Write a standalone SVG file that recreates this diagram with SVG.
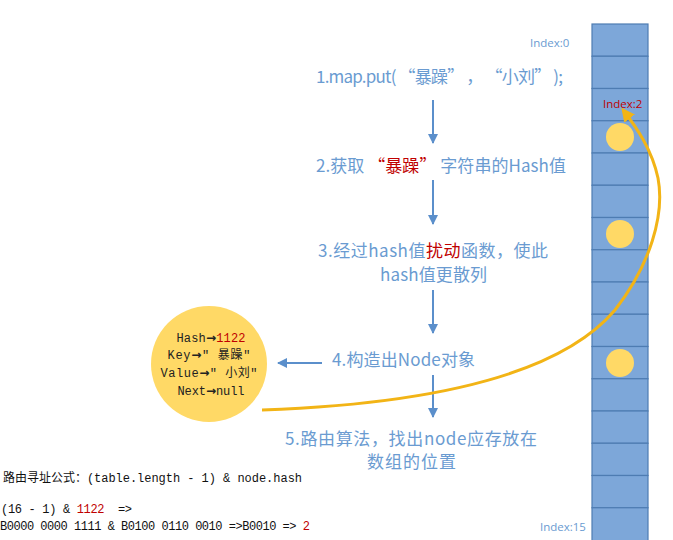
<svg xmlns="http://www.w3.org/2000/svg" width="673" height="540" viewBox="0 0 673 540">
<style>
.step{font-family:"Noto Sans CJK SC","Open Sans",sans-serif;font-size:17px;fill:#6A9BD1;}
.node{font-family:"Liberation Mono","Noto Sans CJK SC",monospace;font-size:12px;fill:#222;}
.ar{font-family:"DejaVu Sans",sans-serif;font-weight:bold;}
.code{font-family:"Liberation Mono","Noto Sans CJK SC",monospace;font-size:12px;fill:#111;white-space:pre;}
.idx{font-family:"Open Sans",sans-serif;font-size:11.5px;fill:#6A9BD1;}
.red, .idx.red, .step .red, .node .red, .code .red{fill:#C00000;}
.cell{fill:#7DA7D9;stroke:#4E7CB2;stroke-width:1.2;}
.dot{fill:#FFD966;}
.arr{stroke:#5B8FCB;stroke-width:2;fill:none;marker-end:url(#ab);}
</style>
<defs>
<marker id="ab" viewBox="0 0 10 10" refX="9" refY="5" markerWidth="5" markerHeight="5" orient="auto" markerUnits="strokeWidth">
<path d="M0,0 L10,5 L0,10 z" fill="#5B8FCB"/>
</marker>
<marker id="ay" viewBox="0 0 10 10" refX="8" refY="5" markerWidth="4.5" markerHeight="4.5" orient="auto" markerUnits="strokeWidth">
<path d="M0,0 L10,5 L0,10 z" fill="#F2B416"/>
</marker>
</defs>
<rect width="673" height="540" fill="#fff"/>

<g id="array">
<rect class="cell" x="592" y="24" width="56" height="32.25"/>
<rect class="cell" x="592" y="56.25" width="56" height="32.25"/>
<rect class="cell" x="592" y="88.5" width="56" height="32.25"/>
<rect class="cell" x="592" y="120.75" width="56" height="32.25"/>
<rect class="cell" x="592" y="153" width="56" height="32.25"/>
<rect class="cell" x="592" y="185.25" width="56" height="32.25"/>
<rect class="cell" x="592" y="217.5" width="56" height="32.25"/>
<rect class="cell" x="592" y="249.75" width="56" height="32.25"/>
<rect class="cell" x="592" y="282" width="56" height="32.25"/>
<rect class="cell" x="592" y="314.25" width="56" height="32.25"/>
<rect class="cell" x="592" y="346.5" width="56" height="32.25"/>
<rect class="cell" x="592" y="378.75" width="56" height="32.25"/>
<rect class="cell" x="592" y="411" width="56" height="32.25"/>
<rect class="cell" x="592" y="443.25" width="56" height="32.25"/>
<rect class="cell" x="592" y="475.5" width="56" height="32.25"/>
<rect class="cell" x="592" y="507.75" width="56" height="34"/>
<circle class="dot" cx="620" cy="137" r="14"/>
<circle class="dot" cx="620" cy="234" r="14"/>
<circle class="dot" cx="620" cy="363" r="14"/>
<text class="idx" x="530" y="47">Index:0</text>
<text class="idx red" x="603" y="108">Index:2</text>
<text class="idx" x="540" y="531">Index:15</text>
</g>

<g id="node">
<circle cx="209" cy="364" r="58" fill="#FFD966"/>
<text class="node" x="211" y="342" text-anchor="middle" textLength="69">Hash<tspan class="ar">→</tspan><tspan class="red">1122</tspan></text>
<text class="node" x="209" y="359" text-anchor="middle" textLength="83">Key<tspan class="ar">→</tspan>" 暴躁"</text>
<text class="node" x="209" y="377" text-anchor="middle" textLength="97">Value<tspan class="ar">→</tspan>" 小刘"</text>
<text class="node" x="211" y="395" text-anchor="middle" textLength="67">Next<tspan class="ar">→</tspan>null</text>
</g>

<g id="steps">
<text class="step" x="316" y="83" textLength="247">1.map.put( “暴躁” ， “小刘” );</text>
<text class="step" x="316" y="172" textLength="250">2.获取 <tspan class="red">“暴躁”</tspan> 字符串的Hash值</text>
<text class="step" x="318" y="257" textLength="230">3.经过hash值<tspan class="red">扰动</tspan>函数，使此</text>
<text class="step" x="380" y="281" textLength="107">hash值更散列</text>
<text class="step" x="332" y="366" textLength="143">4.构造出Node对象</text>
<text class="step" x="285" y="445" textLength="252">5.路由算法，找出node应存放在</text>
<text class="step" x="367" y="468" textLength="89">数组的位置</text>
</g>

<g id="formula">
<text class="code" x="3" y="482" textLength="299">路由寻址公式：(table.length - 1) &amp; node.hash</text>
<text class="code" x="1" y="513" textLength="131">(16 - 1) &amp; <tspan class="red">1122</tspan>  =&gt;</text>
<text class="code" x="0" y="530" textLength="310">B0000 0000 1111 &amp; B0100 0110 0010 =&gt;B0010 =&gt; <tspan class="red">2</tspan></text>
</g>

<g id="connectors">
<line class="arr" x1="433" y1="100" x2="433" y2="143"/>
<line class="arr" x1="433" y1="180" x2="433" y2="224"/>
<line class="arr" x1="433" y1="290" x2="433" y2="333"/>
<line class="arr" x1="433" y1="375" x2="433" y2="417"/>
<line class="arr" x1="322" y1="363" x2="278" y2="363"/>
<path d="M262,410 C430,404 560,375 615,310 C650,265 665,215 658,178 C652,150 637,128 623,110" fill="none" stroke="#F2B416" stroke-width="3" marker-end="url(#ay)"/>
</g>
</svg>
